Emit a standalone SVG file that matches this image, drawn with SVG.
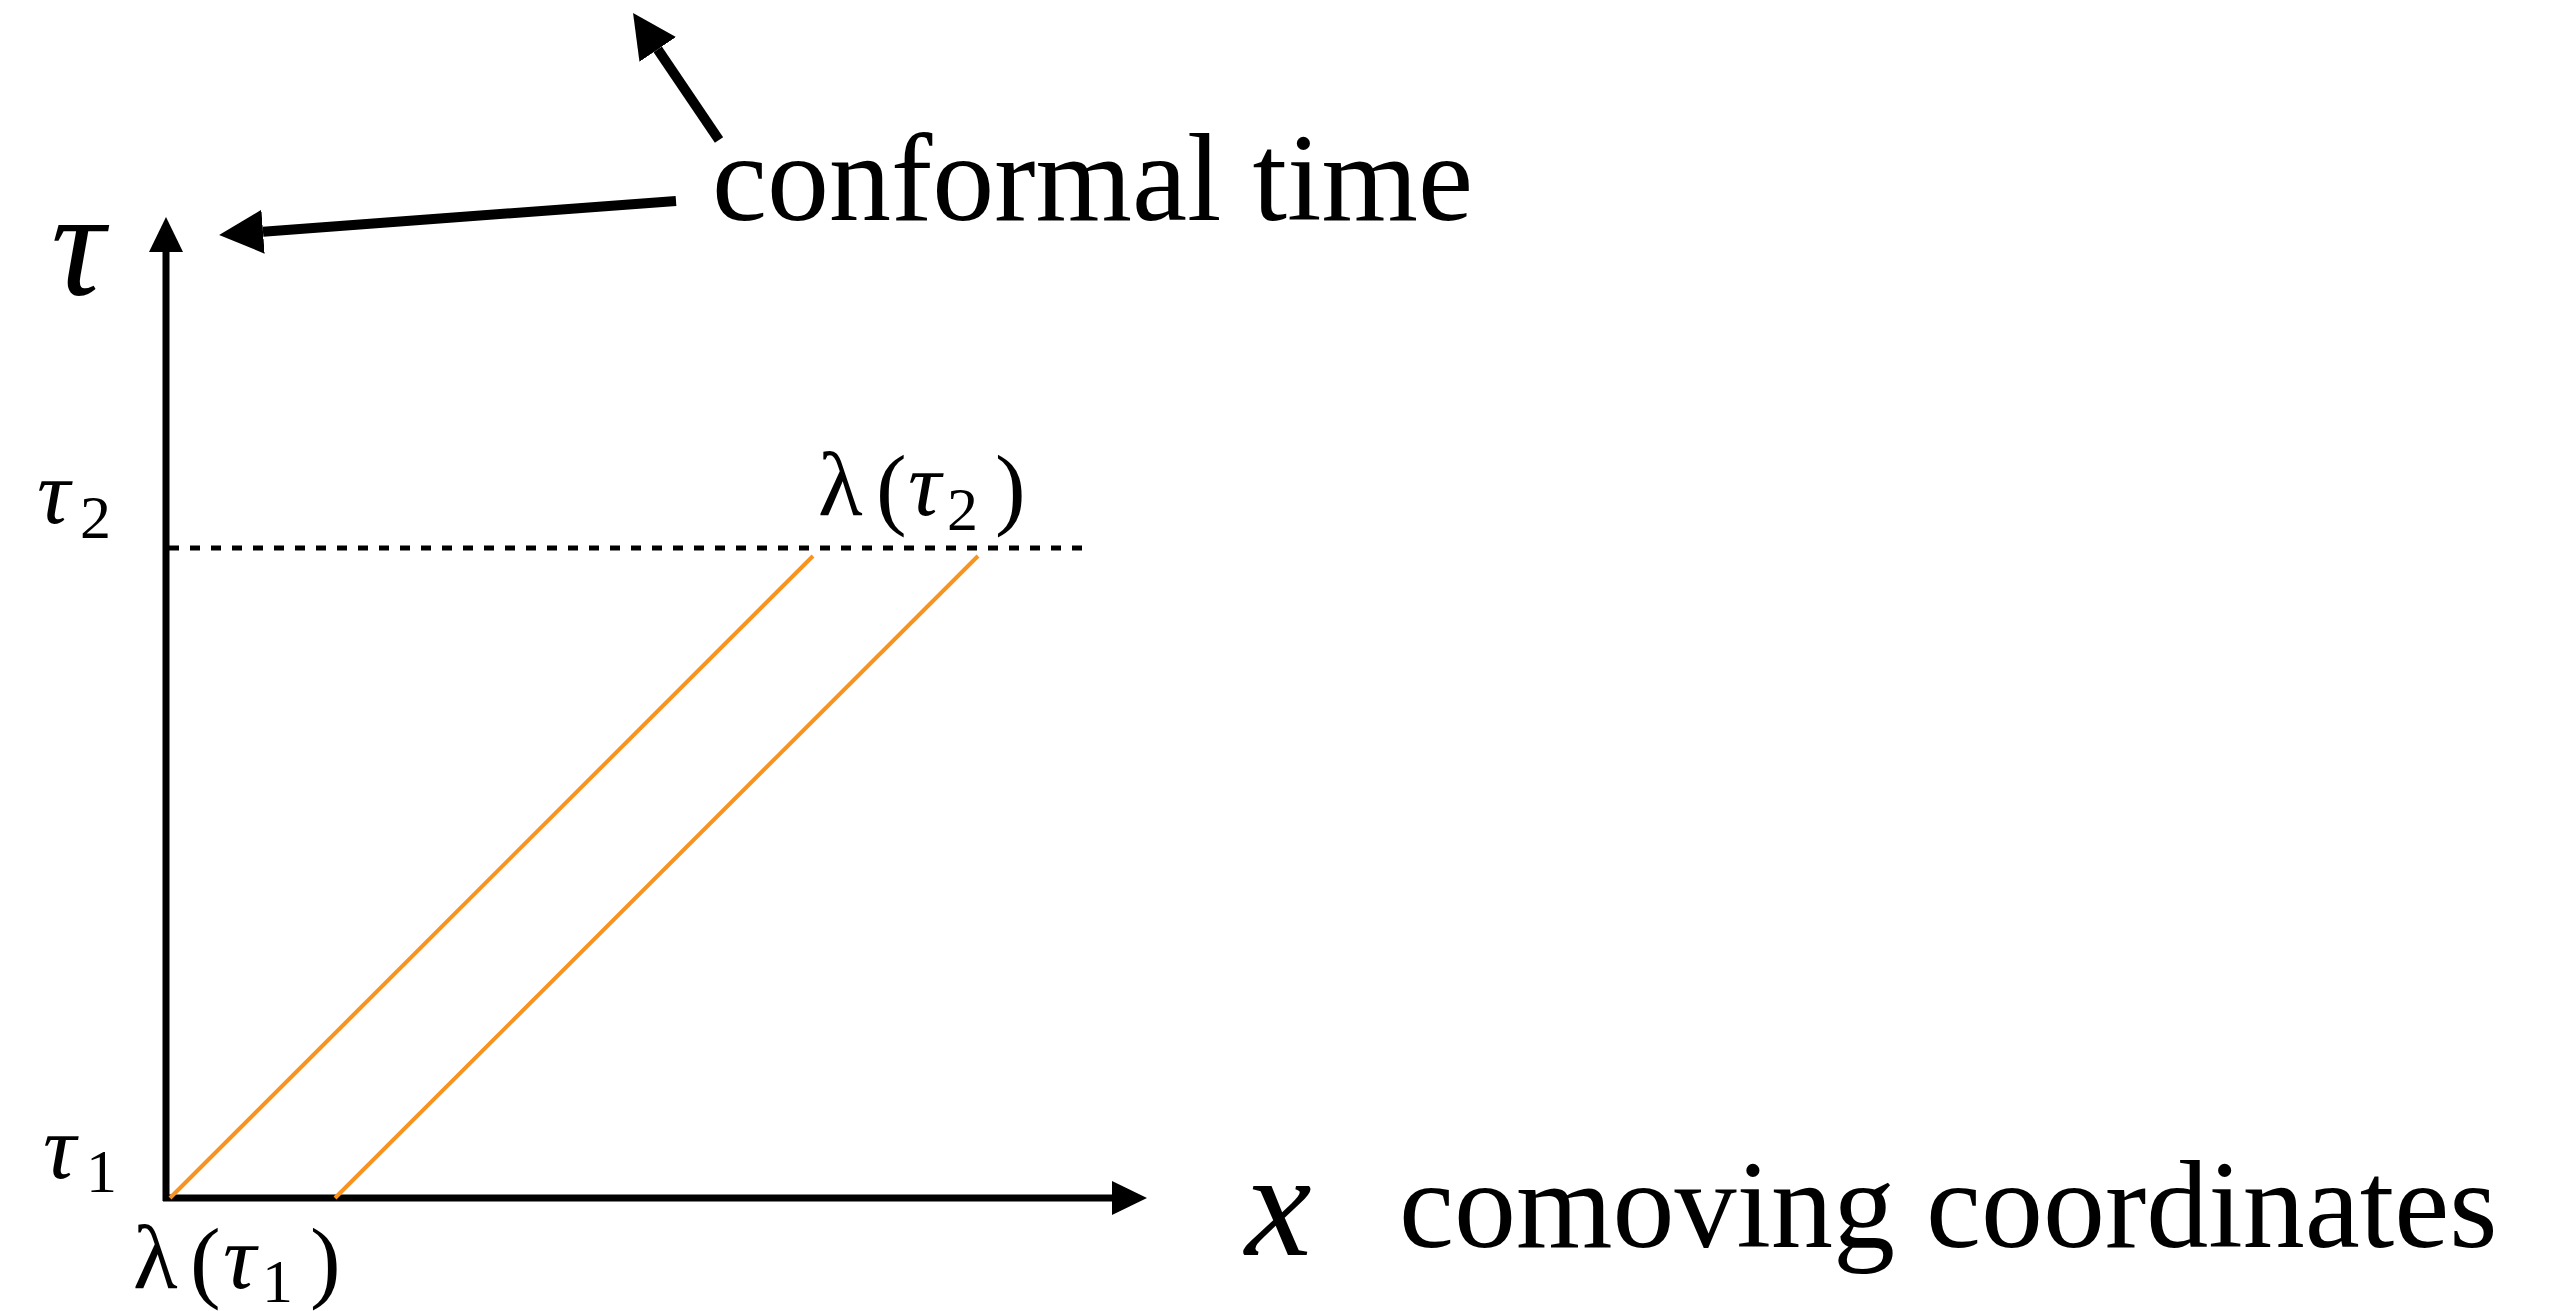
<svg xmlns="http://www.w3.org/2000/svg" width="2572" height="1311" viewBox="0 0 2572 1311">
<style>
.txt{font-family:"Liberation Serif","Times New Roman",serif;fill:#000}
.big{font-size:124px}
.m{font-size:92px}
.mi{font-size:92px;font-style:italic}
.sub{font-size:62px}
.axis{stroke:#000;stroke-width:7;fill:none}
.callout{stroke:#000;stroke-width:10;fill:none}
.world{stroke:#F7931E;stroke-width:4;fill:none}
.dash{stroke:#000;stroke-width:5;stroke-dasharray:10 11;fill:none}
</style>
<defs>
<marker id="axhead" markerUnits="userSpaceOnUse" viewBox="0 0 35 34" markerWidth="35" markerHeight="34" refX="0" refY="17" orient="auto"><path d="M0,0 L35,17 L0,34 z" fill="#000"/></marker>
<marker id="cohead" markerUnits="userSpaceOnUse" viewBox="0 0 44 44" markerWidth="44" markerHeight="44" refX="0" refY="22" orient="auto"><path d="M0,0 L44,22 L0,44 z" fill="#000"/></marker>
</defs>
<rect width="2572" height="1311" fill="#fff"/>
<g id="axes">
<line class="axis" x1="166" y1="1201" x2="166" y2="252" marker-end="url(#axhead)"/>
<line class="axis" x1="163" y1="1198" x2="1112" y2="1198" marker-end="url(#axhead)"/>
</g>
<g id="connectors">
<line class="dash" x1="169" y1="548" x2="1088" y2="548"/>
<line class="world" x1="170" y1="1198" x2="813" y2="556"/>
<line class="world" x1="335" y1="1198" x2="978" y2="556"/>
<line class="callout" x1="676" y1="201" x2="263" y2="231.7" marker-end="url(#cohead)"/>
<line class="callout" x1="719" y1="140" x2="657.7" y2="49.4" marker-end="url(#cohead)"/>
</g>
<g id="label-conformal"><text class="txt big" x="712" y="220">conformal time</text></g>
<g id="label-comoving"><text class="txt big" x="1399" y="1247">comoving coordinates</text></g>
<g id="label-tau"><text class="txt" style="font-size:150px;font-style:italic" x="51" y="295">τ</text></g>
<g id="label-x"><text class="txt" style="font-size:150px;font-style:italic" x="1245" y="1255">x</text></g>
<g id="label-tau2">
<text class="txt mi" x="37" y="523">τ</text><text class="txt sub" x="80" y="538">2</text>
</g>
<g id="label-tau1">
<text class="txt mi" x="43" y="1178">τ</text><text class="txt sub" x="86" y="1192">1</text>
</g>
<g id="label-lambda-tau2">
<text class="txt m" x="818" y="515">λ</text><text class="txt m" x="876" y="518">(</text><text class="txt mi" x="908" y="515">τ</text><text class="txt sub" x="947" y="530">2</text><text class="txt m" x="995" y="518">)</text>
</g>
<g id="label-lambda-tau1">
<text class="txt m" x="133" y="1288">λ</text><text class="txt m" x="190" y="1291">(</text><text class="txt mi" x="223" y="1288">τ</text><text class="txt sub" x="262" y="1302">1</text><text class="txt m" x="310" y="1291">)</text>
</g>
</svg>
